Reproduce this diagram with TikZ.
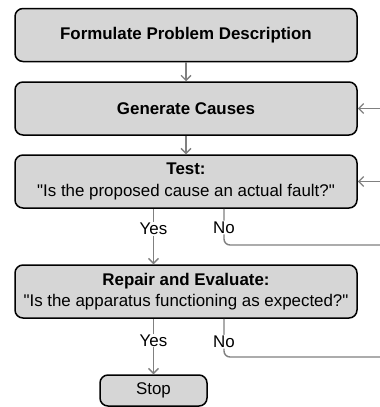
\documentclass[tikz,border=0pt]{standalone}
\usepackage{fontspec}
\setmainfont{Liberation Sans}[Ligatures=TeXOff]
\usetikzlibrary{arrows.meta}
\definecolor{boxfill}{RGB}{214,214,214}
\definecolor{conn}{RGB}{128,128,128}
\newcommand\qq{\symbol{34}}
\tikzset{
  box/.style={draw=black, line width=1.5pt, fill=boxfill, rounded corners=8pt,
    minimum width=342pt, minimum height=53pt, inner sep=0pt, align=center,
    font=\fontsize{16.9}{21.5}\selectfont},
  stopbox/.style={box, minimum width=107pt, minimum height=31pt},
  conn/.style={draw=conn, line width=1.4pt, -{Straight Barb[length=5pt,width=10pt,line width=1.3pt]}},
  plain/.style={draw=conn, line width=1.4pt, rounded corners=6pt},
  lab/.style={fill=white, inner sep=1pt, font=\fontsize{16.9}{18}\selectfont}
}
\begin{document}
\begin{tikzpicture}[x=1pt,y=-1pt]
\useasboundingbox (0,0) rectangle (380,407);
\clip (0,0) rectangle (380,407);
\node[box] (b1) at (186,35) {\textbf{Formulate Problem Description}};
\node[box] (b2) at (186,108.5) {\textbf{Generate Causes}};
\node[box] (b3) at (186,181.5) {\textbf{Test:}\\\qq Is the proposed cause an actual fault?\qq};
\node[box] (b4) at (186,291.5) {\textbf{Repair and Evaluate:}\\\qq Is the apparatus functioning as expected?\qq};
\node[stopbox] (stop) at (153.5,390.5) {Stop};
\coordinate (in2) at (385,108.5);
\coordinate (in3) at (385,181.5);
\coordinate (out3) at (385,245);
\coordinate (out4) at (385,357);
\draw[conn] (b1) -- (b2);
\draw[conn] (b2) -- (b3);
\draw[conn] (in2) -- (b2.east);
\draw[conn] (in3) -- (b3.east);
\draw[conn] (b3.south -| stop.north) -- node[lab, pos=0.36] {Yes} (b4.north -| stop.north);
\draw[plain] (b3.south -| 224,0) -- node[lab, pos=0.52] {No} (224,245) -- (out3);
\draw[conn] (b4.south -| stop.north) -- node[lab, pos=0.39] {Yes} (stop.north);
\draw[plain] (b4.south -| 224,0) -- node[lab, pos=0.6] {No} (224,357) -- (out4);
\end{tikzpicture}
\end{document}
